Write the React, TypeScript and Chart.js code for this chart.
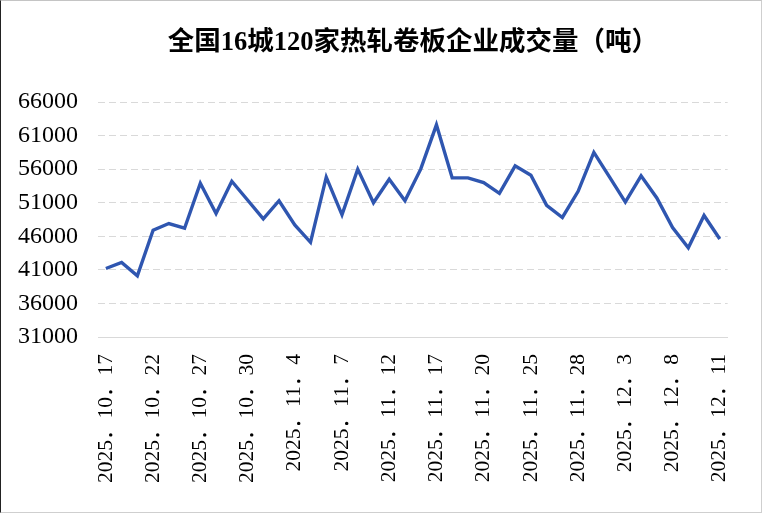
import React, { useEffect, useRef } from "react";
import { Chart, registerables } from "chart.js";

Chart.register(...registerables);

const TITLE = "全国16城120家热轧卷板企业成交量（吨）";

const dates = [
  "2025.10.17", "2025.10.20", "2025.10.21", "2025.10.22", "2025.10.23", "2025.10.24",
  "2025.10.27", "2025.10.28", "2025.10.29", "2025.10.30", "2025.10.31",
  "2025.11.3", "2025.11.4", "2025.11.5", "2025.11.6", "2025.11.7",
  "2025.11.10", "2025.11.11", "2025.11.12", "2025.11.13", "2025.11.14",
  "2025.11.17", "2025.11.18", "2025.11.19", "2025.11.20", "2025.11.21",
  "2025.11.24", "2025.11.25", "2025.11.26", "2025.11.27", "2025.11.28",
  "2025.12.1", "2025.12.2", "2025.12.3", "2025.12.4", "2025.12.5",
  "2025.12.8", "2025.12.9", "2025.12.10", "2025.12.11",
];

const volumes = [
  41200, 42100, 40100, 46900, 47900, 47200,
  53900, 49400, 54200, 51400, 48600,
  51300, 47700, 45100, 54800, 49200,
  56000, 51000, 54500, 51300, 56000,
  62600, 54700, 54700, 54000, 52400,
  56500, 55100, 50600, 48800, 52700,
  58500, 54800, 51100, 55000, 51700,
  47300, 44300, 49100, 45600,
];

const Y_MIN = 31000;
const Y_MAX = 66000;
const Y_STEP = 5000;
const LABEL_EVERY = 3;

const FONT_FAMILY = '"Liberation Serif", "Noto Sans CJK SC", serif';

const titlePlugin = {
  id: "centeredTitle",
  afterDraw(chart: any) {
    const { ctx, chartArea } = chart;
    ctx.save();
    ctx.font = `bold 26.5px ${FONT_FAMILY}`;
    ctx.fillStyle = "#000";
    ctx.textAlign = "center";
    ctx.textBaseline = "middle";
    ctx.fillText(TITLE, (chartArea.left + chartArea.right) / 2, 43);
    ctx.restore();
  },
};

export default function App() {
  const canvasRef = useRef<HTMLCanvasElement | null>(null);

  useEffect(() => {
    document.body.style.margin = "0";
    const canvas = canvasRef.current;
    if (!canvas) return;
    const chart = new Chart(canvas, {
      type: "line",
      data: {
        labels: dates,
        datasets: [
          {
            data: volumes,
            borderColor: "#2f56b0",
            backgroundColor: "#2f56b0",
            borderWidth: 3.4,
            pointRadius: 0,
            tension: 0,
            fill: false,
          },
        ],
      },
      options: {
        responsive: false,
        animation: false,
        devicePixelRatio: 1,
        layout: { padding: { top: 102, left: 0, right: 33, bottom: 0 } },
        plugins: {
          legend: { display: false },
          tooltip: { enabled: false },
          title: { display: false },
        },
        scales: {
          x: {
            offset: true,
            grid: { display: false, drawTicks: false },
            border: { display: true, color: "#d9d9d9", width: 1 },
            ticks: {
              autoSkip: false,
              minRotation: 90,
              maxRotation: 90,
              padding: 17,
              color: "#000",
              font: { family: FONT_FAMILY, size: 21.5 },
              callback: (_v: any, i: number) =>
                i % LABEL_EVERY === 0 ? dates[i].replace(/\./g, "．") : "",
            },
            afterFit: (s: any) => {
              s.height = 514 - 337;
            },
          },
          y: {
            min: Y_MIN,
            max: Y_MAX,
            grid: { color: "#d9d9d9", lineWidth: 1, drawTicks: false },
            border: { display: false, dash: [7, 4] },
            ticks: {
              stepSize: Y_STEP,
              padding: 20,
              color: "#000",
              font: { family: FONT_FAMILY, size: 24 },
              callback: (v: any) => String(v),
            },
            afterFit: (s: any) => {
              s.width = 98;
            },
          },
        },
      },
      plugins: [titlePlugin],
    });
    return () => chart.destroy();
  }, []);

  return (
    <div style={{ position: "relative", width: 763, height: 514, background: "#fff" }}>
      <canvas ref={canvasRef} width={763} height={514} style={{ display: "block" }} />
      <div
        style={{
          position: "absolute",
          left: 0,
          top: 0,
          width: 762,
          height: 513,
          boxSizing: "border-box",
          borderTop: "1px solid #c4c4c4",
          borderLeft: "1px solid #222",
          borderRight: "1px solid #cfcfcf",
          borderBottom: "1px solid #cfcfcf",
          pointerEvents: "none",
        }}
      />
    </div>
  );
}
